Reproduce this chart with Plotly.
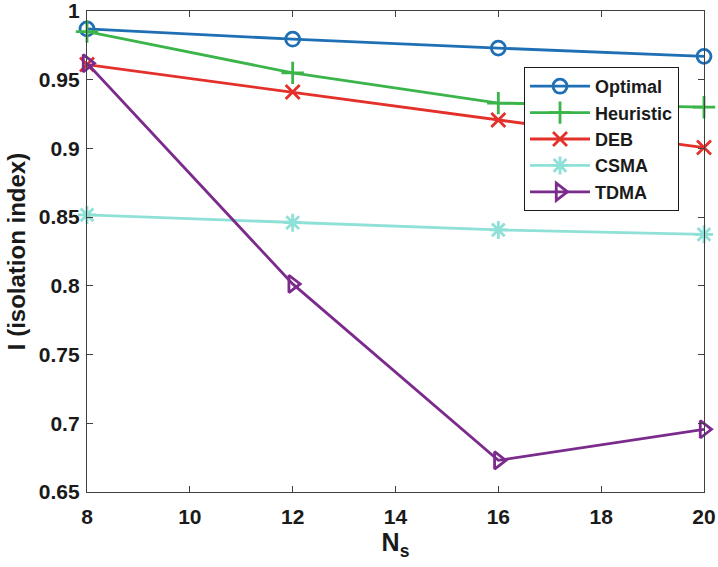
import plotly.graph_objects as go

# Number of sensors
ns = [8, 12, 16, 20]

# Isolation index per scheme
optimal = [0.987, 0.9795, 0.973, 0.967]
heuristic = [0.985, 0.955, 0.933, 0.930]
deb = [0.961, 0.941, 0.9207, 0.9006]
csma = [0.8516, 0.846, 0.8407, 0.8375]
tdma = [0.962, 0.8014, 0.673, 0.6956]

series = [
    ("Optimal", optimal, "#1f6fb4", "circle-open", 14),
    ("Heuristic", heuristic, "#3bb54a", "cross-thin-open", 16),
    ("DEB", deb, "#e4302a", "x-thin-open", 14),
    ("CSMA", csma, "#8fe0d6", "asterisk-open", 15),
    ("TDMA", tdma, "#7b2b8c", "triangle-right-open", 15),
]

font_family = "Liberation Sans, Arial, Helvetica, sans-serif"
text_color = "#1a1a1a"

fig = go.Figure()
for name, vals, color, symbol, size in series:
    fig.add_trace(go.Scatter(
        x=ns, y=vals, name=name, mode="lines+markers",
        line=dict(color=color, width=2.8),
        marker=dict(symbol=symbol, size=size, color=color,
                    line=dict(color=color, width=2.8)),
        cliponaxis=False,
    ))

axis_common = dict(
    showline=True, linecolor="#404040", linewidth=1.3,
    mirror="ticks", ticks="inside", ticklen=6, tickcolor="#404040",
    showgrid=False, zeroline=False, automargin=False,
    ticklabeloverflow="allow",
    tickfont=dict(family=font_family, size=21, color=text_color, weight="bold"),
)

fig.update_xaxes(
    range=[8, 20], tickvals=[8, 10, 12, 14, 16, 18, 20],
    ticklabelstandoff=6,
    title=dict(text="N<sub>s</sub>", standoff=2,
               font=dict(family=font_family, size=25, color=text_color, weight="bold")),
    **axis_common,
)
fig.update_yaxes(
    range=[0.65, 1], tickvals=[0.65, 0.7, 0.75, 0.8, 0.85, 0.9, 0.95, 1],
    ticktext=["0.65", "0.7", "0.75", "0.8", "0.85", "0.9", "0.95", "1"],
    ticklabelstandoff=2,
    title=dict(text="I (isolation index)", standoff=6,
               font=dict(family=font_family, size=24, color=text_color, weight="bold")),
    **axis_common,
)

fig.update_layout(
    width=718, height=567,
    margin=dict(l=87, r=14, t=11, b=75),
    paper_bgcolor="white", plot_bgcolor="white",
    showlegend=True,
    legend=dict(
        x=0.9595, y=0.8836, xanchor="right", yanchor="top",
        bgcolor="white", bordercolor=text_color, borderwidth=1,
        font=dict(family=font_family, size=18, color=text_color, weight="bold"),
        tracegroupgap=0, itemwidth=60,
    ),
)

fig.write_html("out.html")
